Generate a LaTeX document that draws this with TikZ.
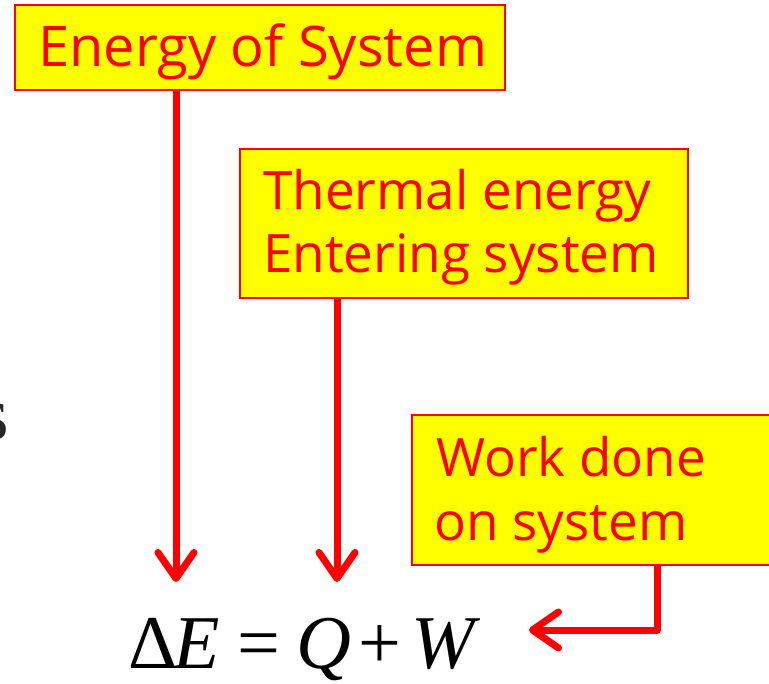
\documentclass[tikz,border=0pt]{standalone}
\usepackage{fontspec}
\setmainfont{Open Sans}
\newfontfamily\eqfont{Liberation Serif}
\usetikzlibrary{arrows.meta}
\definecolor{boxred}{RGB}{255,0,0}
\definecolor{boxyellow}{RGB}{255,255,0}
\begin{document}
\begin{tikzpicture}[x=1pt,y=-1pt,
  box/.style={draw=boxred,line width=2pt,fill=boxyellow,inner sep=0pt},
  lbl/.style={text=boxred,font=\fontsize{53}{63}\selectfont,anchor=base west,inner sep=0pt},
  arr/.style={draw=boxred,line width=7pt,line join=round,-{Straight Barb[length=26pt,width=36pt,round]}},
  eqs/.style={font=\eqfont\fontsize{76}{76}\selectfont,anchor=base west,inner sep=0pt}]
\useasboundingbox (0,0) rectangle (769,684);
% fragment at left edge
\node[eqs,anchor=base east,text=black!85] (frag) at (9,440) {s};
% boxes
\node[box,minimum width=490pt,minimum height=85pt] (b1) at (260,47.5) {};
\node[lbl,font=\fontsize{56}{63}\selectfont] (t1) at (38,67) {Energy of System};
\node[box,minimum width=448pt,minimum height=149pt] (b2) at (464,223.5) {};
\node[lbl] (t2a) at (263,210) {Thermal energy};
\node[lbl] (t2b) at (263,273) {Entering system};
\node[box,minimum width=370pt,minimum height=150pt] (b3) at (597,490) {};
\node[lbl] (t3a) at (436,477) {Work done};
\node[lbl] (t3b) at (434,540) {on system};
% equation
\node[eqs] (d) at (128,668) {Δ};
\node[eqs] (e) at (173,668) {\textit{E}};
\node[eqs] (eq) at (237,668) {=};
\node[eqs] (q) at (296,668) {\textit{Q}};
\node[eqs] (pl) at (358,668) {+};
\node[eqs] (w) at (411,668) {\textit{W}};
% arrows
\coordinate (a1) at (176,582);
\coordinate (a2) at (337,582);
\coordinate (k3) at (657,630);
\coordinate (a3) at (529,630);
\draw[arr] (b1.south -| a1) -- (a1);
\draw[arr] (b2.south -| a2) -- (a2);
\draw[arr] (b3.south -| k3) -- (k3) -- (a3);
\end{tikzpicture}
\end{document}
